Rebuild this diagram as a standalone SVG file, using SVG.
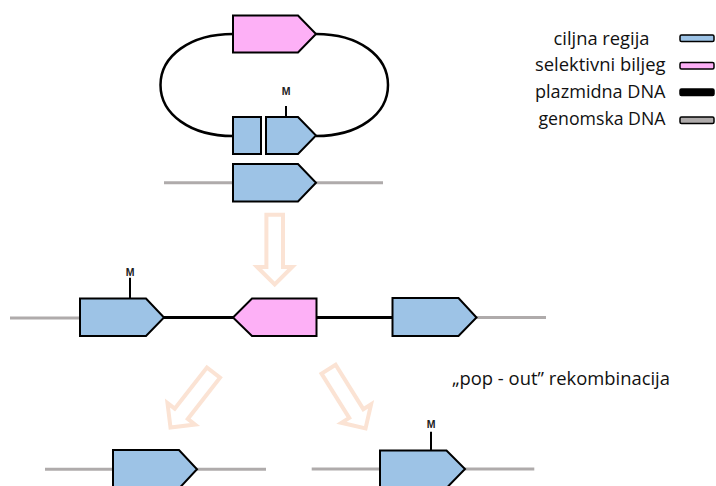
<svg xmlns="http://www.w3.org/2000/svg" width="716" height="486" viewBox="0 0 716 486">
<defs>
<style>
.blue{fill:#9DC3E6;stroke:#000;stroke-width:2;stroke-linejoin:miter}
.pink{fill:#FDB0F6;stroke:#000;stroke-width:2;stroke-linejoin:miter}
.gline{stroke:#AFABAB;stroke-width:3;fill:none}
.bline{stroke:#000;stroke-width:3;fill:none}
.ring{stroke:#000;stroke-width:2.5;fill:none}
.arrow{fill:none;stroke:#FBE3D4;stroke-width:4;stroke-linejoin:miter}
.mt{font-family:"Liberation Sans",Arial,sans-serif;font-weight:bold;font-size:10.5px;fill:#222;text-anchor:middle}
.mline{stroke:#000;stroke-width:2}
.lbl{font-family:"Open Sans","Liberation Sans",sans-serif;font-size:18.5px;fill:#111}
</style>
<polygon id="arrowShape" points="-8.3,2 8.3,2 8.3,54.3 17.5,54.3 0,71.8 -17.5,54.3 -8.3,54.3"/>
</defs>

<g id="connectors">
<path class="ring" d="M233,34 C190,34 160.5,56 160.5,85 C160.5,114 190,136 233,136"/>
<path class="ring" d="M316,34 C359,34 388,56 388,85 C388,114 359,136 316,136"/>
<line class="gline" x1="164" y1="182.7" x2="383" y2="182.7"/>
<line class="gline" x1="10" y1="318" x2="80" y2="318"/>
<line class="bline" x1="164" y1="317.5" x2="233" y2="317.5"/>
<line class="bline" x1="317" y1="317.5" x2="392" y2="317.5"/>
<line class="gline" x1="476" y1="317.5" x2="546" y2="317.5"/>
<line class="gline" x1="45" y1="469.3" x2="266" y2="469.3"/>
<line class="gline" x1="311.7" y1="469" x2="534.3" y2="469"/>
</g>

<g id="arrows">
<use href="#arrowShape" class="arrow" transform="translate(274.7,212.7)"/>
<use href="#arrowShape" class="arrow" transform="translate(214.7,371) rotate(38)"/>
<use href="#arrowShape" class="arrow" transform="translate(327.5,367.5) rotate(-32)"/>
</g>

<g id="plasmid-marker">
<polygon class="pink" points="233,15.5 298,15.5 316,34 298,52.5 233,52.5"/>
</g>
<g id="plasmid-target-small">
<rect class="blue" x="233" y="117" width="28" height="37"/>
</g>
<g id="plasmid-target-M">
<line class="mline" x1="286" y1="106" x2="286" y2="117"/>
<text class="mt" x="286" y="94.5">M</text>
<polygon class="blue" points="266,117 298,117 316,135.5 298,154 266,154"/>
</g>
<g id="genome-target">
<polygon class="blue" points="233,164 298,164 316,182.7 298,201.5 233,201.5"/>
</g>

<g id="row2-left">
<line class="mline" x1="130" y1="277.7" x2="130" y2="298"/>
<text class="mt" x="130" y="275.5">M</text>
<polygon class="blue" points="80,298.5 146,298.5 164,317.5 146,336 80,336"/>
</g>
<g id="row2-marker">
<polygon class="pink" points="233,317.5 252,298.5 316.5,298.5 316.5,336 252,336"/>
</g>
<g id="row2-right">
<polygon class="blue" points="392.5,298 458.5,298 476.5,317.5 458.5,336 392.5,336"/>
</g>

<g id="bottom-left">
<polygon class="blue" points="113,450 179,450 197,469.3 179,488.5 113,488.5"/>
</g>
<g id="bottom-right">
<line class="mline" x1="431" y1="431.7" x2="431" y2="450"/>
<text class="mt" x="431" y="427.5">M</text>
<polygon class="blue" points="380,450.5 446.5,450.5 465,469 446.5,488 380,488"/>
</g>

<g id="label-popout">
<text class="lbl" x="452" y="384.5" textLength="218" lengthAdjust="spacingAndGlyphs">„pop - out” rekombinacija</text>
</g>

<g id="legend">
<text class="lbl" x="553.5" y="44.5" textLength="96" lengthAdjust="spacingAndGlyphs">ciljna regija</text>
<text class="lbl" x="535" y="71" textLength="130.5" lengthAdjust="spacingAndGlyphs">selektivni biljeg</text>
<text class="lbl" x="535" y="97.5" textLength="130.5" lengthAdjust="spacingAndGlyphs">plazmidna DNA</text>
<text class="lbl" x="538.5" y="124.5" textLength="127" lengthAdjust="spacingAndGlyphs">genomska DNA</text>
<rect x="680" y="35" width="34" height="6.5" rx="1.5" fill="#9DC3E6" stroke="#000" stroke-width="1.5"/>
<rect x="680" y="62.5" width="34" height="6.5" rx="1.5" fill="#FDB0F6" stroke="#000" stroke-width="1.5"/>
<rect x="680" y="89" width="34" height="6.5" rx="1.5" fill="#000" stroke="#000" stroke-width="1.5"/>
<rect x="680" y="117" width="34" height="6.5" rx="1.5" fill="#AFABAB" stroke="#000" stroke-width="1.5"/>
</g>
</svg>
